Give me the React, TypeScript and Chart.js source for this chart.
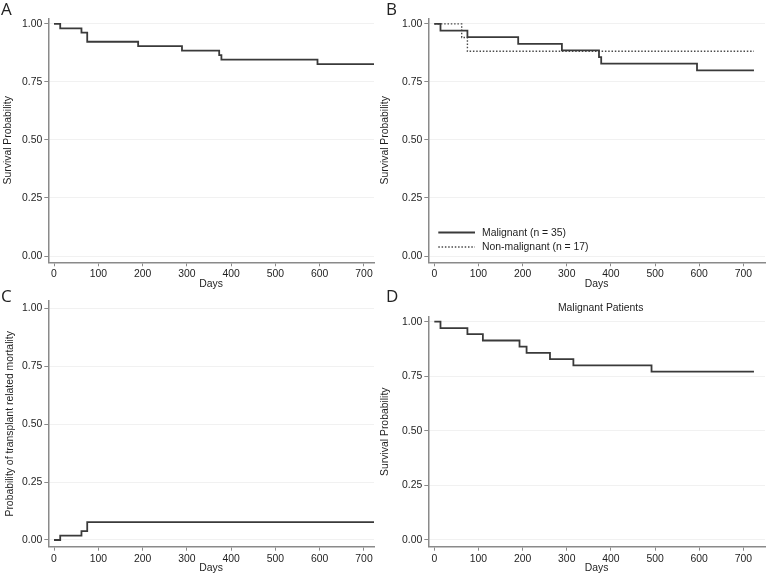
import React, { useEffect, useRef } from "react";
import { Chart, registerables } from "chart.js";

Chart.register(...registerables);

// ---- data ----
const DAY_TICKS = [0, 100, 200, 300, 400, 500, 600, 700];
const PROB_TICKS = [0, 0.25, 0.5, 0.75, 1];

const overallDays = [0, 14, 62, 75, 190, 289, 373, 378, 595, 723];
const overallSurv = [1, 0.981, 0.962, 0.923, 0.904, 0.885, 0.865, 0.846, 0.827, 0.827];

const malignantDays = [0, 14, 75, 190, 289, 373, 378, 595, 724];
const malignantSurv = [1, 0.971, 0.943, 0.914, 0.886, 0.857, 0.829, 0.8, 0.8];

const nonMalignantDays = [0, 62, 75, 724];
const nonMalignantSurv = [1, 0.941, 0.882, 0.882];

const trmDays = [0, 14, 62, 75, 723];
const trmProb = [0, 0.019, 0.038, 0.077, 0.077];

const malPatDays = [0, 14, 75, 110, 193, 209, 262, 315, 492, 724];
const malPatSurv = [1, 0.971, 0.943, 0.914, 0.886, 0.857, 0.829, 0.8, 0.771, 0.771];

const LEGEND_LABELS = ["Malignant (n = 35)", "Non-malignant (n = 17)"];
const PANEL_LETTERS = ["A", "B", "C", "D"];
const Y_TITLE_SURV = "Survival Probability";
const Y_TITLE_TRM = "Probability of transplant related mortality";
const X_TITLE = "Days";
const D_TITLE = "Malignant Patients";

// ---- styles ----
const FONT = "'Liberation Sans', Arial, Helvetica, sans-serif";
const FS = 10.4;
const AXIS = "#8a8a8a";
const GRID = "#f1f1f1";
const TEXT = "#1e1e1e";
const LINE = "#3a3a3a";

type Series = { days: number[]; values: number[]; label: string; dotted?: boolean };
type Spec = {
  left: number; top: number; width: number; height: number;
  padTop: number; padRight: number; yWidth: number; xHeight: number;
  xMin: number; xMax: number; yMin: number; yMax: number;
  yTitle: string; yTitlePad: number; xTitlePad: number;
  series: Series[]; legend?: boolean;
};

const insideLegend = {
  id: "insideLegend",
  afterDatasetsDraw(chart: any, _args: any, opts: any) {
    if (!opts || !opts.display) return;
    const { ctx, chartArea } = chart;
    ctx.save();
    chart.data.datasets.forEach((ds: any, i: number) => {
      const y = chartArea.bottom - opts.bottomOffset + i * opts.rowGap;
      const x0 = chartArea.left + opts.leftOffset;
      ctx.beginPath();
      ctx.strokeStyle = ds.borderColor;
      ctx.lineWidth = ds.borderWidth;
      ctx.setLineDash(ds.borderDash || []);
      ctx.moveTo(x0, y);
      ctx.lineTo(x0 + opts.sampleWidth, y);
      ctx.stroke();
      ctx.setLineDash([]);
      ctx.fillStyle = TEXT;
      ctx.font = `${FS}px ${FONT}`;
      ctx.textBaseline = "middle";
      ctx.textAlign = "left";
      ctx.fillText(ds.label, x0 + opts.sampleWidth + opts.textGap, y + 0.5);
    });
    ctx.restore();
  },
};

function Panel({ spec }: { spec: Spec }) {
  const ref = useRef<HTMLCanvasElement | null>(null);
  useEffect(() => {
    if (!ref.current) return;
    const chart = new Chart(ref.current, {
      type: "line",
      data: {
        datasets: spec.series.map((s) => ({
          label: s.label,
          data: s.days.map((d, i) => ({ x: d, y: s.values[i] })),
          stepped: "before" as const,
          borderColor: s.dotted ? "#4a4a4a" : LINE,
          borderWidth: s.dotted ? 1.4 : 1.8,
          borderDash: s.dotted ? [1.5, 1.8] : [],
          pointRadius: 0,
          fill: false,
        })),
      },
      plugins: [insideLegend],
      options: {
        animation: false,
        responsive: false,
        events: [],
        layout: { padding: { top: spec.padTop, right: spec.padRight, left: 0, bottom: 0 } },
        plugins: {
          legend: { display: false },
          tooltip: { enabled: false },
          title: { display: false },
          insideLegend: {
            display: !!spec.legend,
            leftOffset: 10,
            sampleWidth: 36.7,
            textGap: 7,
            bottomOffset: 29.8,
            rowGap: 14.5,
          },
        } as any,
        scales: {
          x: {
            type: "linear",
            min: spec.xMin,
            max: spec.xMax,
            afterBuildTicks: (s: any) => {
              s.ticks = DAY_TICKS.map((v) => ({ value: v }));
            },
            afterFit: (s: any) => {
              s.height = spec.xHeight;
            },
            grid: {
              drawOnChartArea: false,
              drawTicks: true,
              tickLength: 4,
              tickColor: AXIS,
              tickWidth: 1,
            },
            border: { display: true, color: AXIS, width: 1.5 },
            ticks: {
              color: TEXT,
              font: { family: FONT, size: FS },
              padding: 2,
              maxRotation: 0,
              autoSkip: false,
              callback: (v: any) => String(v),
            },
            title: {
              display: true,
              text: X_TITLE,
              color: TEXT,
              font: { family: FONT, size: FS },
              padding: { top: 0, bottom: spec.xTitlePad },
            },
          },
          y: {
            type: "linear",
            min: spec.yMin,
            max: spec.yMax,
            afterBuildTicks: (s: any) => {
              s.ticks = PROB_TICKS.map((v) => ({ value: v }));
            },
            afterFit: (s: any) => {
              s.width = spec.yWidth;
            },
            grid: {
              drawOnChartArea: true,
              color: GRID,
              lineWidth: 1,
              drawTicks: true,
              tickLength: 4,
              tickColor: AXIS,
              tickWidth: 1,
            },
            border: { display: true, color: AXIS, width: 1.5 },
            ticks: {
              color: TEXT,
              font: { family: FONT, size: FS },
              padding: 2,
              autoSkip: false,
              callback: (v: any) => Number(v).toFixed(2),
            },
            title: {
              display: true,
              text: spec.yTitle,
              color: TEXT,
              font: { family: FONT, size: FS },
              padding: { top: spec.yTitlePad, bottom: 0 },
            },
          },
        },
      } as any,
    });
    return () => chart.destroy();
  }, [spec]);
  return (
    <canvas
      ref={ref}
      width={spec.width}
      height={spec.height}
      style={{ position: "absolute", left: spec.left, top: spec.top, width: spec.width, height: spec.height }}
    />
  );
}

const specs: Spec[] = [
  {
    left: 0, top: 0, width: 385, height: 291,
    padTop: 18.3, padRight: 11, yWidth: 48.3, xHeight: 28.7,
    xMin: -12.9, xMax: 722.6, yMin: -0.027, yMax: 1.024,
    yTitle: Y_TITLE_SURV, yTitlePad: 2, xTitlePad: 1,
    series: [{ days: overallDays, values: overallSurv, label: "All patients" }],
  },
  {
    left: 378, top: 0, width: 393, height: 291,
    padTop: 18.3, padRight: 6, yWidth: 50.3, xHeight: 28.7,
    xMin: -13.6, xMax: 749, yMin: -0.027, yMax: 1.024,
    yTitle: Y_TITLE_SURV, yTitlePad: 1, xTitlePad: 1,
    legend: true,
    series: [
      { days: malignantDays, values: malignantSurv, label: LEGEND_LABELS[0] },
      { days: nonMalignantDays, values: nonMalignantSurv, label: LEGEND_LABELS[1], dotted: true },
    ],
  },
  {
    left: 0, top: 287, width: 385, height: 288,
    padTop: 14, padRight: 11, yWidth: 48.3, xHeight: 28.3,
    xMin: -12.9, xMax: 722.6, yMin: -0.029, yMax: 1.032,
    yTitle: Y_TITLE_TRM, yTitlePad: 4, xTitlePad: 0.5,
    series: [{ days: trmDays, values: trmProb, label: "TRM" }],
  },
  {
    left: 378, top: 287, width: 393, height: 288,
    padTop: 29.7, padRight: 6, yWidth: 50.3, xHeight: 28.3,
    xMin: -13.6, xMax: 749, yMin: -0.031, yMax: 1.023,
    yTitle: Y_TITLE_SURV, yTitlePad: 1, xTitlePad: 0.5,
    series: [{ days: malPatDays, values: malPatSurv, label: "Malignant patients" }],
  },
];

const letterPos = [
  { left: 1, top: 0 },
  { left: 386, top: 0 },
  { left: 1, top: 287 },
  { left: 386, top: 287 },
];

export default function App() {
  return (
    <div style={{ position: "absolute", left: 0, top: 0, width: 771, height: 575, background: "#fff", overflow: "hidden" }}>
      {specs.map((s, i) => (
        <Panel key={i} spec={s} />
      ))}
      {PANEL_LETTERS.map((l, i) => (
        <div
          key={l}
          style={{
            position: "absolute",
            left: letterPos[i].left,
            top: letterPos[i].top,
            fontFamily: "'Open Sans', sans-serif",
            fontSize: 17,
            lineHeight: "17px",
            color: "#222",
          }}
        >
          {l}
        </div>
      ))}
      <div
        style={{
          position: "absolute",
          left: 500.7,
          top: 302.3,
          width: 200,
          textAlign: "center",
          fontFamily: FONT,
          fontSize: FS,
          lineHeight: "12px",
          color: TEXT,
        }}
      >
        {D_TITLE}
      </div>
    </div>
  );
}
